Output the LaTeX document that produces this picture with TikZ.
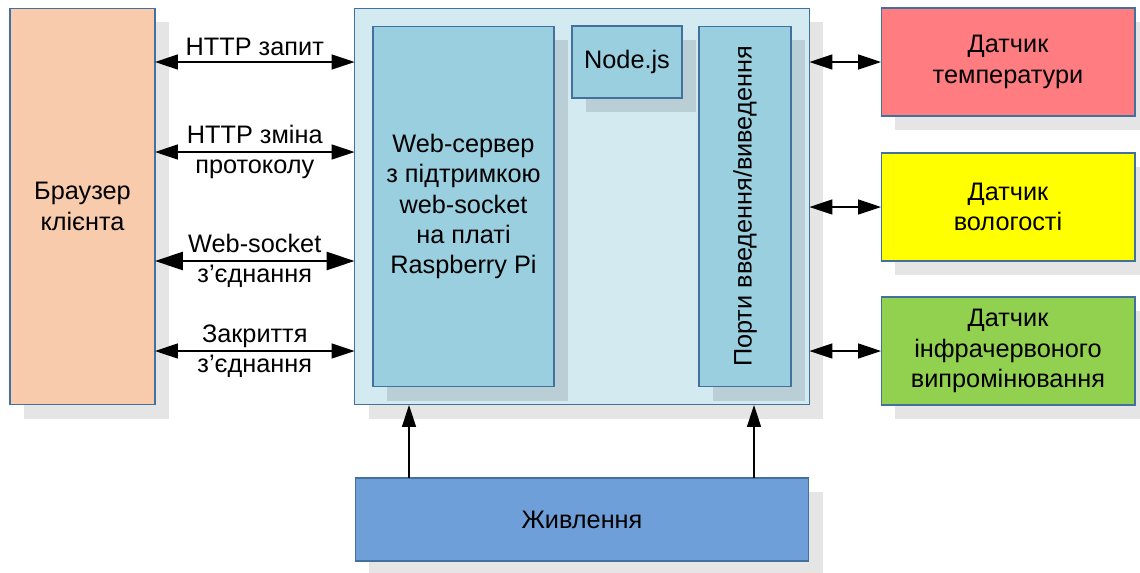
\documentclass[tikz,border=0pt]{standalone}
\usepackage{fontspec}
\setmainfont{Liberation Sans}
\usetikzlibrary{arrows.meta,shadows}

\definecolor{edgeblue}{HTML}{41719C}
\definecolor{peach}{HTML}{F8CBAD}
\definecolor{boardfill}{HTML}{D3EAF0}
\definecolor{partfill}{HTML}{9ACFDF}
\definecolor{partshade}{HTML}{BACED5}
\definecolor{shadegray}{HTML}{E5E5E5}
\definecolor{tempred}{HTML}{FF7C80}
\definecolor{humyellow}{HTML}{FFFF00}
\definecolor{irgreen}{HTML}{92D050}
\definecolor{powerblue}{HTML}{6F9FD8}

\begin{document}
\begin{tikzpicture}
  [x=0.02cm,y=-0.02cm,
   txt/.style={font=\fontsize{14.4}{17.3}\selectfont,align=center},
   base node/.style={txt,rectangle,draw=edgeblue,line width=0.6pt,inner sep=0pt,outer sep=0pt},
   main node/.style={base node,
     drop shadow={shadow xshift=0.28cm,shadow yshift=-0.28cm,fill=shadegray,opacity=1}},
   part node/.style={base node,fill=partfill,
     drop shadow={shadow xshift=0.28cm,shadow yshift=-0.28cm,fill=partshade,opacity=1}},
   link/.style={line width=0.8pt,{Triangle[length=4.6mm,width=3mm]}-{Triangle[length=4.6mm,width=3mm]}},
   up link/.style={line width=0.8pt,-{Triangle[length=4.4mm,width=2.8mm]}}]
  \useasboundingbox (0,0) rectangle (1140,572);

  \node[main node,fill=peach,minimum width=2.9cm,minimum height=7.94cm] (browser) at (82.5,206.5) {Браузер\\клієнта};
  \node[main node,fill=boardfill,minimum width=9.1cm,minimum height=7.94cm] (board) at (582,206.5) {};
  \node[part node,minimum width=3.62cm,minimum height=7.22cm] (web) at (463.5,206.5)
    {Web-сервер\\з підтримкою\\web-socket\\на платі\\Raspberry Pi};
  \node[part node,minimum width=2.2cm,minimum height=1.44cm] (nodejs) at (627,62) {Node.js};
  \node[part node,minimum width=1.84cm,minimum height=7.22cm] (ports) at (745,206.5)
    {\rotatebox{90}{Порти введення/виведення}};

  \node[main node,fill=tempred,minimum width=5.08cm,minimum height=2.16cm] (temp) at (1008,62) {Датчик\\температури};
  \node[main node,fill=humyellow,minimum width=5.08cm,minimum height=2.16cm] (hum) at (1008,207) {Датчик\\вологості};
  \node[main node,fill=irgreen,minimum width=5.08cm,minimum height=2.16cm] (ir) at (1008,351)
    {Датчик\\інфрачервоного\\випромінювання};
  \node[main node,fill=powerblue,minimum width=9.08cm,minimum height=1.66cm] (power) at (582,519.5) {Живлення};

  \coordinate (upgrade) at (0,152);
  \coordinate (wsock) at (0,261);
  \coordinate (pl) at (409,0);
  \coordinate (pr) at (754,0);

  % browser <-> board
  \path[] (browser.east |- temp) [link] edge node [txt,above] {HTTP запит} (board.west |- temp);
  \path[] (browser.east |- upgrade) [link] edge node [txt] {HTTP зміна\\протоколу} (board.west |- upgrade);
  \path[] (browser.east |- wsock) [link,line width=1.6pt,
    {Triangle[length=5.6mm,width=3.6mm]}-{Triangle[length=5.6mm,width=3.6mm]}]
    edge node [txt] {Web-socket\\з’єднання} (board.west |- wsock);
  \path[] (browser.east |- ir) [link] edge node [txt] {Закриття\\з’єднання} (board.west |- ir);

  % board <-> sensors
  \path[] (board.east |- temp) [link] edge (temp.west);
  \path[] (board.east |- hum) [link] edge (hum.west);
  \path[] (board.east |- ir) [link] edge (ir.west);

  % power supply
  \path[] (power.north -| pl) [up link] edge (board.south -| pl);
  \path[] (power.north -| pr) [up link] edge (board.south -| pr);
\end{tikzpicture}
\end{document}
